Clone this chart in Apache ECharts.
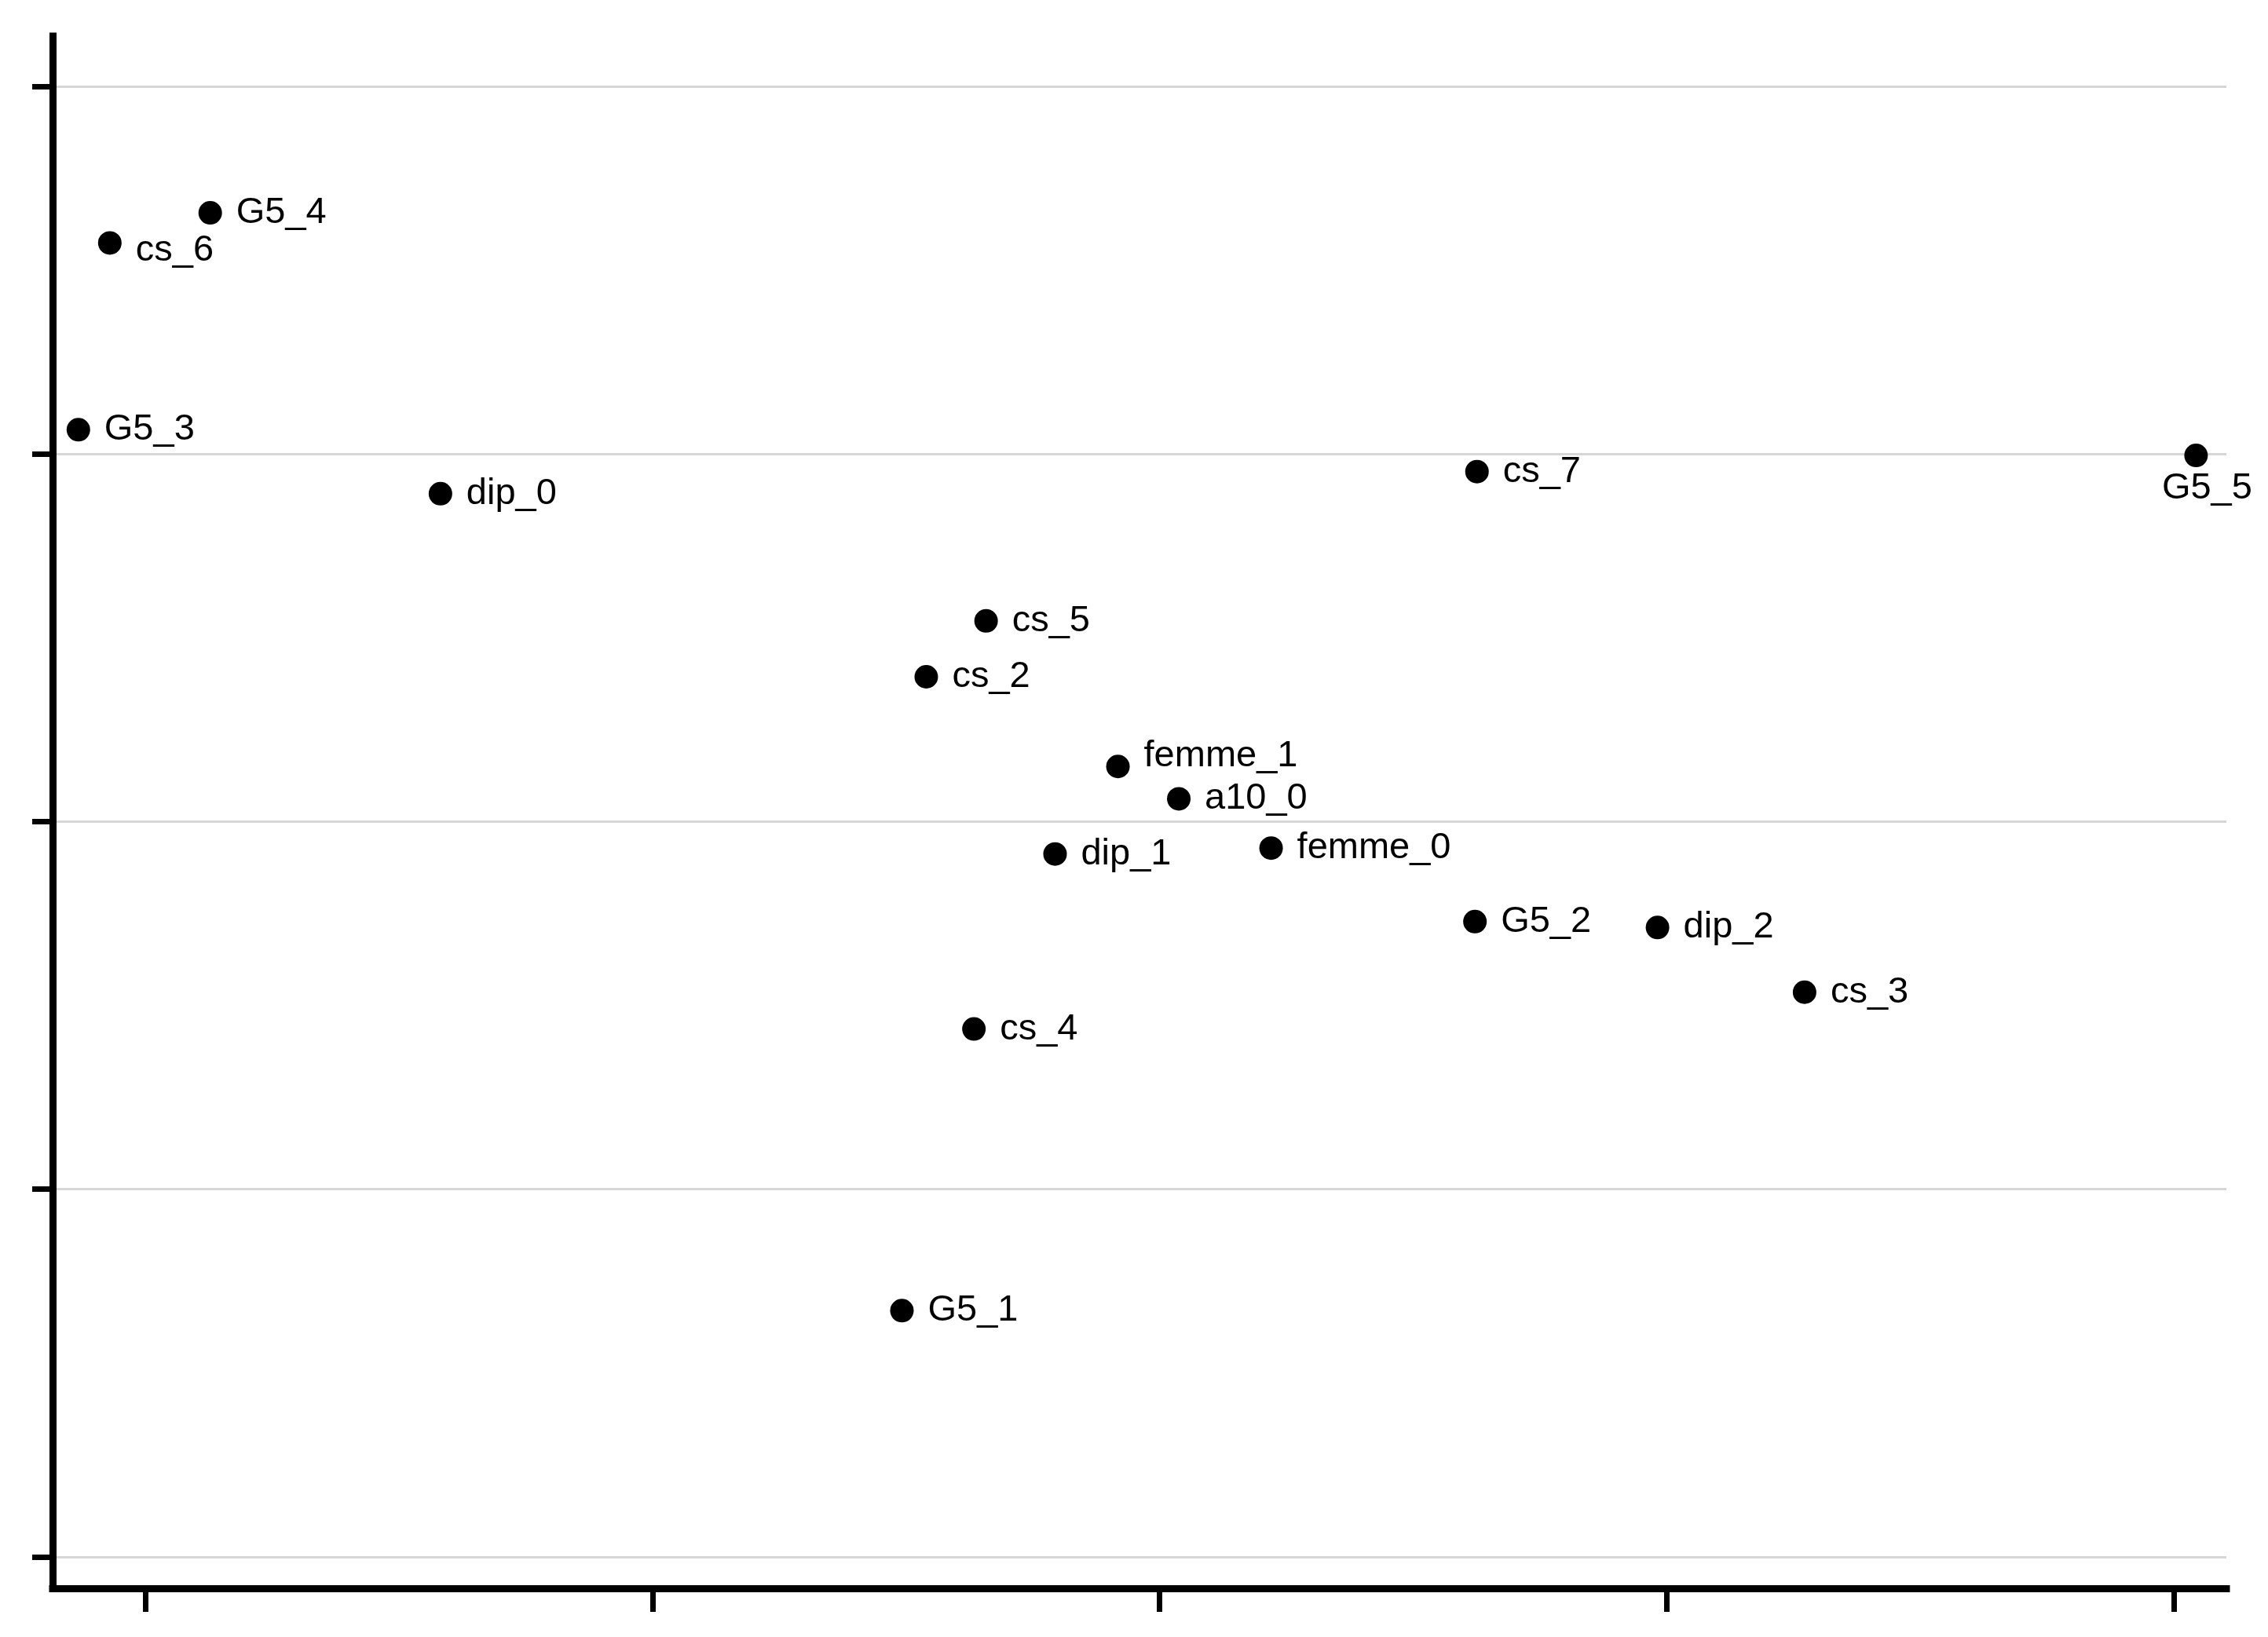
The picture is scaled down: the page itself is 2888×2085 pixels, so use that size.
<!DOCTYPE html>
<html>
<head>
<meta charset="utf-8">
<style>
  html, body { margin: 0; padding: 0; background: #ffffff; }
  #chart { width: 2888px; height: 2085px; }
</style>
<script src="https://cdn.jsdelivr.net/npm/echarts@6/dist/echarts.min.js"></script>
</head>
<body>
<div id="chart"></div>
<script>
// Point labels (categories) and coordinates
const names   = ['G5_4', 'cs_6', 'G5_3', 'dip_0', 'cs_7', 'G5_5', 'cs_5', 'cs_2', 'femme_1', 'a10_0', 'femme_0', 'dip_1', 'G5_2', 'dip_2', 'cs_3', 'cs_4', 'G5_1'];
const xValues = [-0.936, -1.035, -1.066, -0.709, 0.313, 1.022, -0.171, -0.230, -0.041, 0.019, 0.110, -0.103, 0.311, 0.491, 0.636, -0.183, -0.254];
const yValues = [0.828, 0.787, 0.533, 0.446, 0.476, 0.498, 0.273, 0.197, 0.075, 0.031, -0.036, -0.044, -0.136, -0.144, -0.232, -0.282, -0.665];

// Tick positions (no tick labels are printed in the original)
const xTicks = [-1, -0.5, 0, 0.5, 1];
const yTicks = [-1, -0.5, 0, 0.5, 1];

// Per-label placement tweaks (style only)
const labelTweaks = {
  'cs_6': { offset: [0, 10] },
  'femme_1': { offset: [0, -13] },
  'G5_5': { position: 'bottom', distance: 3, offset: [14, 0] }
};

const data = names.map((n, i) => {
  const item = { name: n, value: [xValues[i], yValues[i]] };
  if (labelTweaks[n]) item.label = labelTweaks[n];
  return item;
});

const chart = echarts.init(document.getElementById('chart'), null, { renderer: 'canvas' });
chart.setOption({
  animation: false,
  backgroundColor: '#ffffff',
  grid: { left: 67, right: 53, top: 46, bottom: 62, containLabel: false },
  xAxis: {
    type: 'value',
    min: -1.0914,
    max: 1.0519,
    axisLine: { show: true, onZero: false, lineStyle: { color: '#000', width: 9, cap: 'square' } },
    axisTick: { show: true, customValues: xTicks, length: 30, lineStyle: { color: '#000', width: 7 } },
    axisLabel: { show: false, customValues: xTicks },
    splitLine: { show: false }
  },
  yAxis: {
    type: 'value',
    min: -1.0427,
    max: 1.0683,
    axisLine: { show: true, onZero: false, lineStyle: { color: '#000', width: 9, cap: 'square' } },
    axisTick: { show: true, customValues: yTicks, length: 26, lineStyle: { color: '#000', width: 7 } },
    axisLabel: { show: false, customValues: yTicks },
    splitLine: { show: true, lineStyle: { color: '#d6d6d6', width: 3 } }
  },
  series: [{
    type: 'scatter',
    symbol: 'circle',
    symbolSize: 30,
    itemStyle: { color: '#000', opacity: 1 },
    label: {
      show: true,
      position: 'right',
      distance: 18,
      formatter: '{b}',
      color: '#000',
      fontFamily: '"Liberation Sans", Arial, sans-serif',
      fontSize: 47
    },
    data: data
  }]
});
</script>
</body>
</html>
